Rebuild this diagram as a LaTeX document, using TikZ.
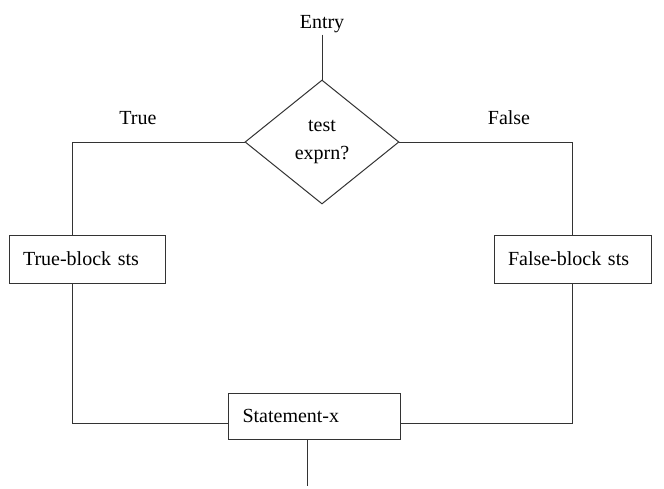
\documentclass[tikz,border=0pt]{standalone}
\usepackage{fontspec}
\setmainfont{Liberation Serif}
\usetikzlibrary{shapes.geometric}

\tikzset{
  flow/.style={line width=0.6pt,draw=black!80},
  stbox/.style={flow,rectangle,minimum height=28.8pt,text width=77.4pt,inner xsep=8.4pt,inner ysep=0pt,align=left},
  decision/.style={flow,diamond,aspect=1.24,minimum width=92.4pt,minimum height=74.4pt,inner sep=0pt,align=center,font=\fontsize{12}{17}\selectfont},
  lbl/.style={inner sep=1pt}
}

\begin{document}
\begin{tikzpicture}[x=0.6pt,y=-0.6pt,font=\fontsize{12}{14}\selectfont]
    \useasboundingbox[fill=white] (0,0) rectangle (664,489);

    \node[lbl] (entry) at (322,24) {Entry};
    \node[decision] (test) at (322,142) {test\\exprn?};
    \node[lbl] (true) at (138,118) {True};
    \node[lbl] (false) at (509,118) {False};

    \node[stbox] (tblock) at (87.5,259) {True-block sts};
    \node[stbox] (fblock) at (572.5,259) {False-block sts};
    \node[stbox,text width=86.4pt,minimum height=27.6pt] (stx) at (314.5,416) {Statement-x};

    \coordinate (tl) at (72,142);
    \coordinate (tb) at (72,423);
    \coordinate (fr) at (572,142);
    \coordinate (fb) at (572,423);
    \coordinate (exit) at (307,486);

    \draw[flow] (entry) -- (test.north);
    \draw[flow] (test.west) -- (tl) -- (tl |- tblock.north);
    \draw[flow] (test.east) -- (fr) -- (fr |- fblock.north);
    \draw[flow] (tb |- tblock.south) -- (tb) -- (stx.west |- tb);
    \draw[flow] (fb |- fblock.south) -- (fb) -- (stx.east |- fb);
    \draw[flow] (exit |- stx.south) -- (exit);
\end{tikzpicture}
\end{document}
